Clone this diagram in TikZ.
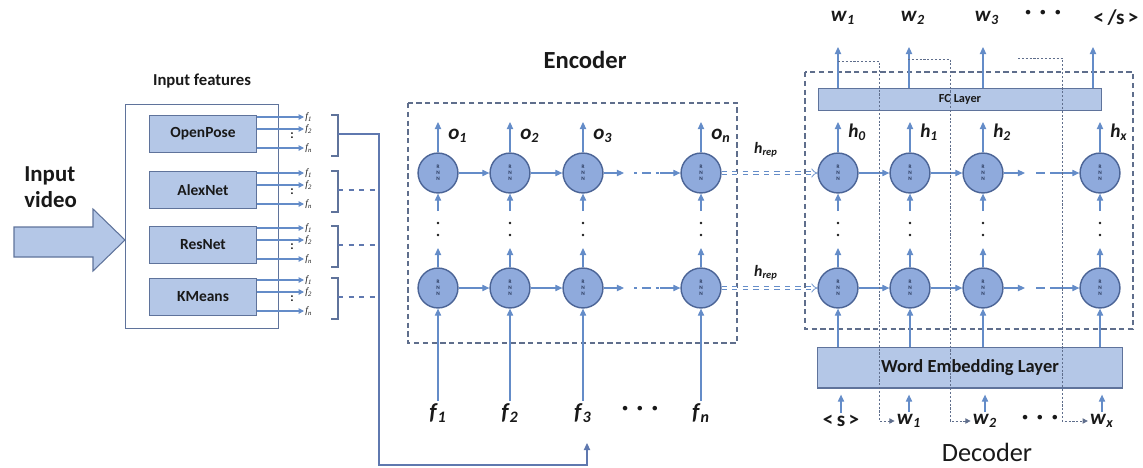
\documentclass[tikz,border=0pt]{standalone}
\usepackage{fontspec}
\setmainfont{Carlito}
\newfontfamily\featfont{Liberation Serif}
\usetikzlibrary{arrows.meta}

\definecolor{boxfill}{RGB}{180,199,231}
\definecolor{boxedge}{RGB}{95,115,155}
\definecolor{rnnfill}{RGB}{143,170,220}
\definecolor{rnnedge}{RGB}{75,100,150}
\definecolor{rnntext}{RGB}{40,55,90}
\definecolor{lineblue}{RGB}{100,140,200}
\definecolor{busblue}{RGB}{95,120,175}
\definecolor{framecol}{RGB}{95,110,140}
\definecolor{txt}{RGB}{25,25,25}

\newcommand{\lab}[2]{\textbf{\textit{#1}\textsubscript{\textit{#2}}}}

\begin{document}
\begin{tikzpicture}[x=0.02cm,y=-0.02cm,>={Triangle[length=4pt,width=3.6pt]},line width=0.6pt]
    \tikzstyle{rnn}=[circle,draw=rnnedge,fill=rnnfill,minimum size=22.7pt,inner sep=0pt,line width=0.8pt,font=\fontsize{3}{3.3}\selectfont\bfseries,text=rnntext,align=center]
    \tikzstyle{netbox}=[rectangle,draw=boxedge,fill=boxfill,minimum width=61.3pt,minimum height=21pt,inner sep=0pt,font=\fontsize{8.8}{10}\selectfont\bfseries,text=txt]
    \tikzstyle{flow}=[draw=lineblue,->]
    \tikzstyle{frame}=[draw=framecol,densely dashed,line width=0.7pt]
    \tikzstyle{feed}=[draw=framecol,dash pattern=on 1.2pt off 1pt,line width=0.5pt,>={Triangle[length=3pt,width=3pt]}]
    \tikzstyle{hrep}=[draw=lineblue,double,double distance=1.4pt,line width=0.4pt,dashed,-Implies]
    \tikzstyle{sym}=[font=\fontsize{12}{14}\selectfont,text=txt,inner sep=1pt]
    \tikzstyle{title}=[font=\fontsize{14}{16}\selectfont\bfseries,text=txt]
    \tikzstyle{etc}=[font=\fontsize{14}{14}\selectfont\bfseries,text=txt]

    \useasboundingbox (0,0) rectangle (1143,467);

    % input video
    \fill[boxfill,draw=boxedge] (14,227) -- (93,227) -- (93,209) -- (125,240) -- (93,271) -- (93,257) -- (14,257) -- cycle;
    \node[font=\fontsize{13}{14.5}\selectfont\bfseries,align=left,anchor=west,text=txt] (vid) at (18,187) {Input\\video};

    % input features
    \node[font=\fontsize{9.5}{11}\selectfont\bfseries,text=txt] (feat-title) at (202,81) {Input features};
    \node[draw=boxedge,fill=white,minimum width=87.4pt,minimum height=127.7pt,inner sep=0pt] (feat) at (202,216.5) {};
    \foreach \i/\name/\y in {1/OpenPose/134, 2/AlexNet/190, 3/ResNet/245, 4/KMeans/297}
    {
        \node[netbox] (net-\i) at (203,\y) {\name};
        \foreach \j/\dy/\k in {1/-17/1, 2/-5/2, 3/14/n}
        {
            \node[font=\featfont\itshape\fontsize{5.5}{6}\selectfont,anchor=west,inner sep=0.5pt,text=txt] (f-\i-\j) at (304,\y+\dy) {f\textsubscript{\k}};
            \draw[flow,>={Triangle[length=3pt,width=3pt]}] (net-\i.east |- f-\i-\j) -- (f-\i-\j.west);
        }
        \node[font=\fontsize{7}{7}\selectfont\bfseries,text=txt,inner sep=0pt] (colon-\i) at (292,\y+2) {:};
        \draw[draw=boxedge,line width=0.7pt] (331,\y-19) -- (338,\y-19) -- (338,\y+22) -- (331,\y+22);
        \coordinate (brk-\i) at (338,\y);
    }

    % features to encoder
    \coordinate (bus) at (379,465);
    \coordinate (fin) at (587,443);
    \draw[draw=busblue,->] (brk-1) -| (bus) -| (fin);
    \foreach \i in {2,3,4}
        \draw[busblue,dashed] (brk-\i) -- (brk-\i -| bus);

    % encoder
    \node[title] (enc-title) at (585,60) {Encoder};
    \draw[frame] (408,103) rectangle (737,343);
    \foreach \c/\x/\s in {1/438/1, 2/510/2, 3/583/3, 4/701/n}
    {
        \node[rnn] (E-1-\c) at (\x,173) {R\\N\\N};
        \node[rnn] (E-2-\c) at (\x,288) {R\\N\\N};
        \coordinate (eo-\c) at (\x,122);
        \draw[flow] (E-1-\c) -- (eo-\c);
        \node[sym,anchor=west] (o-\c) at (\x+8,136) {\lab{o}{\s}};
        \coordinate (eu-\c) at (\x,248);
        \coordinate (ed-\c) at (\x,211);
        \draw[flow] (E-2-\c) -- (eu-\c);
        \draw[flow] (ed-\c) -- (E-1-\c);
        \fill[txt] (\x,223) circle (0.8pt) (\x,235) circle (0.8pt);
        \node[sym,font=\fontsize{13}{14}\selectfont] (ef-\c) at (\x,413) {\lab{f}{\s}};
        \draw[flow] (ef-\c) -- (E-2-\c);
    }
    \node[etc] (ef-dots) at (640,411) {·\,\,·\,\,·};
    \foreach \r/\y in {1/173, 2/288}
    {
        \draw[flow] (E-\r-1) -- (E-\r-2);
        \draw[flow] (E-\r-2) -- (E-\r-3);
        \coordinate (ea-\r) at (624,\y);
        \coordinate (eb-\r) at (634,\y);
        \coordinate (ec-\r) at (660,\y);
        \draw[flow] (E-\r-3) -- (ea-\r);
        \draw[lineblue,dash pattern=on 1.5pt off 3pt on 5pt off 3pt] (eb-\r) -- (ec-\r);
        \draw[flow] (ec-\r) -- (E-\r-4);
    }

    % decoder
    \draw[frame] (805,72) rectangle (1133,329);
    \node[netbox,minimum width=160.7pt,minimum height=12pt,font=\fontsize{7}{8}\selectfont\bfseries] (fc) at (960,99.5) {FC Layer};
    \node[netbox,minimum width=173.7pt,minimum height=23.3pt,font=\fontsize{10.5}{12}\selectfont\bfseries] (emb) at (970,367.5) {Word Embedding Layer};
    \foreach \c/\x/\s in {1/838/0, 2/910/1, 3/983/2, 4/1100/x}
    {
        \node[rnn] (D-1-\c) at (\x,173) {R\\N\\N};
        \node[rnn] (D-2-\c) at (\x,288) {R\\N\\N};
        \coordinate (do-\c) at (\x,122);
        \draw[flow] (D-1-\c) -- (do-\c);
        \node[sym,anchor=west,font=\fontsize{11}{13}\selectfont] (h-\c) at (\x+8,132) {\lab{h}{\s}};
        \coordinate (du-\c) at (\x,248);
        \coordinate (dd-\c) at (\x,211);
        \draw[flow] (D-2-\c) -- (du-\c);
        \draw[flow] (dd-\c) -- (D-1-\c);
        \fill[txt] (\x,223) circle (0.8pt) (\x,235) circle (0.8pt);
        \draw[flow] (emb.north -| D-2-\c) -- (D-2-\c);
    }
    \foreach \r/\y in {1/173, 2/288}
    {
        \draw[flow] (D-\r-1) -- (D-\r-2);
        \draw[flow] (D-\r-2) -- (D-\r-3);
        \coordinate (da-\r) at (1025,\y);
        \coordinate (db-\r) at (1036,\y);
        \coordinate (dc-\r) at (1057,\y);
        \draw[flow] (D-\r-3) -- (da-\r);
        \draw[lineblue,dash pattern=on 5pt off 3pt] (db-\r) -- (dc-\r);
        \draw[flow] (dc-\r) -- (D-\r-4);
    }

    % outputs
    \foreach \c/\x/\lx/\w in {1/838/843/\lab{w}{1}, 2/909/913/\lab{w}{2}, 3/983/987/\lab{w}{3}, 4/1093/1116/{\textbf{<\,/s\,>}}}
    {
        \node[sym] (out-\c) at (\lx,18) {\w};
        \coordinate (wo-\c) at (\x,47);
        \draw[flow] (wo-\c |- fc.north) -- (wo-\c);
    }
    \node[etc] (out-dots) at (1043,15) {·\,\,·\,\,·};

    % inputs
    \foreach \c/\x/\w in {1/841/{\textbf{<\,s\,>}}, 2/909/\lab{w}{1}, 3/985/\lab{w}{2}, 4/1102/\lab{w}{x}}
    {
        \node[sym] (in-\c) at (\x,421) {\w};
        \draw[flow,shorten >=3.5pt] (in-\c) -- (in-\c |- emb.south);
    }
    \node[etc] (in-dots) at (1040,420) {·\,\,·\,\,·};

    % fed back words
    \coordinate (fb-1) at (838,61);
    \coordinate (fb-2) at (908,59);
    \coordinate (fb-3) at (1018,58);
    \coordinate (fk-1) at (879,421);
    \coordinate (fk-2) at (950,421);
    \coordinate (fk-3) at (1062,421);
    \draw[feed,->] (fb-1) -| (fk-1) -- (in-2.west);
    \draw[feed,->] (fb-2) -| (fk-2) -- (in-3.west);
    \draw[feed,->] (fb-3) -| (fk-3) -- (in-4.west);

    % encoder state
    \draw[hrep] (E-1-4) -- (D-1-1);
    \draw[hrep] (E-2-4) -- (D-2-1);
    \node[sym,font=\fontsize{9}{10}\selectfont] (hrep-1) at (766,150) {\lab{h}{rep}};
    \node[sym,font=\fontsize{9}{10}\selectfont] (hrep-2) at (766,273) {\lab{h}{rep}};

    \node[font=\fontsize{15}{17}\selectfont,text=txt] (dec-title) at (987,452) {Decoder};
\end{tikzpicture}
\end{document}
